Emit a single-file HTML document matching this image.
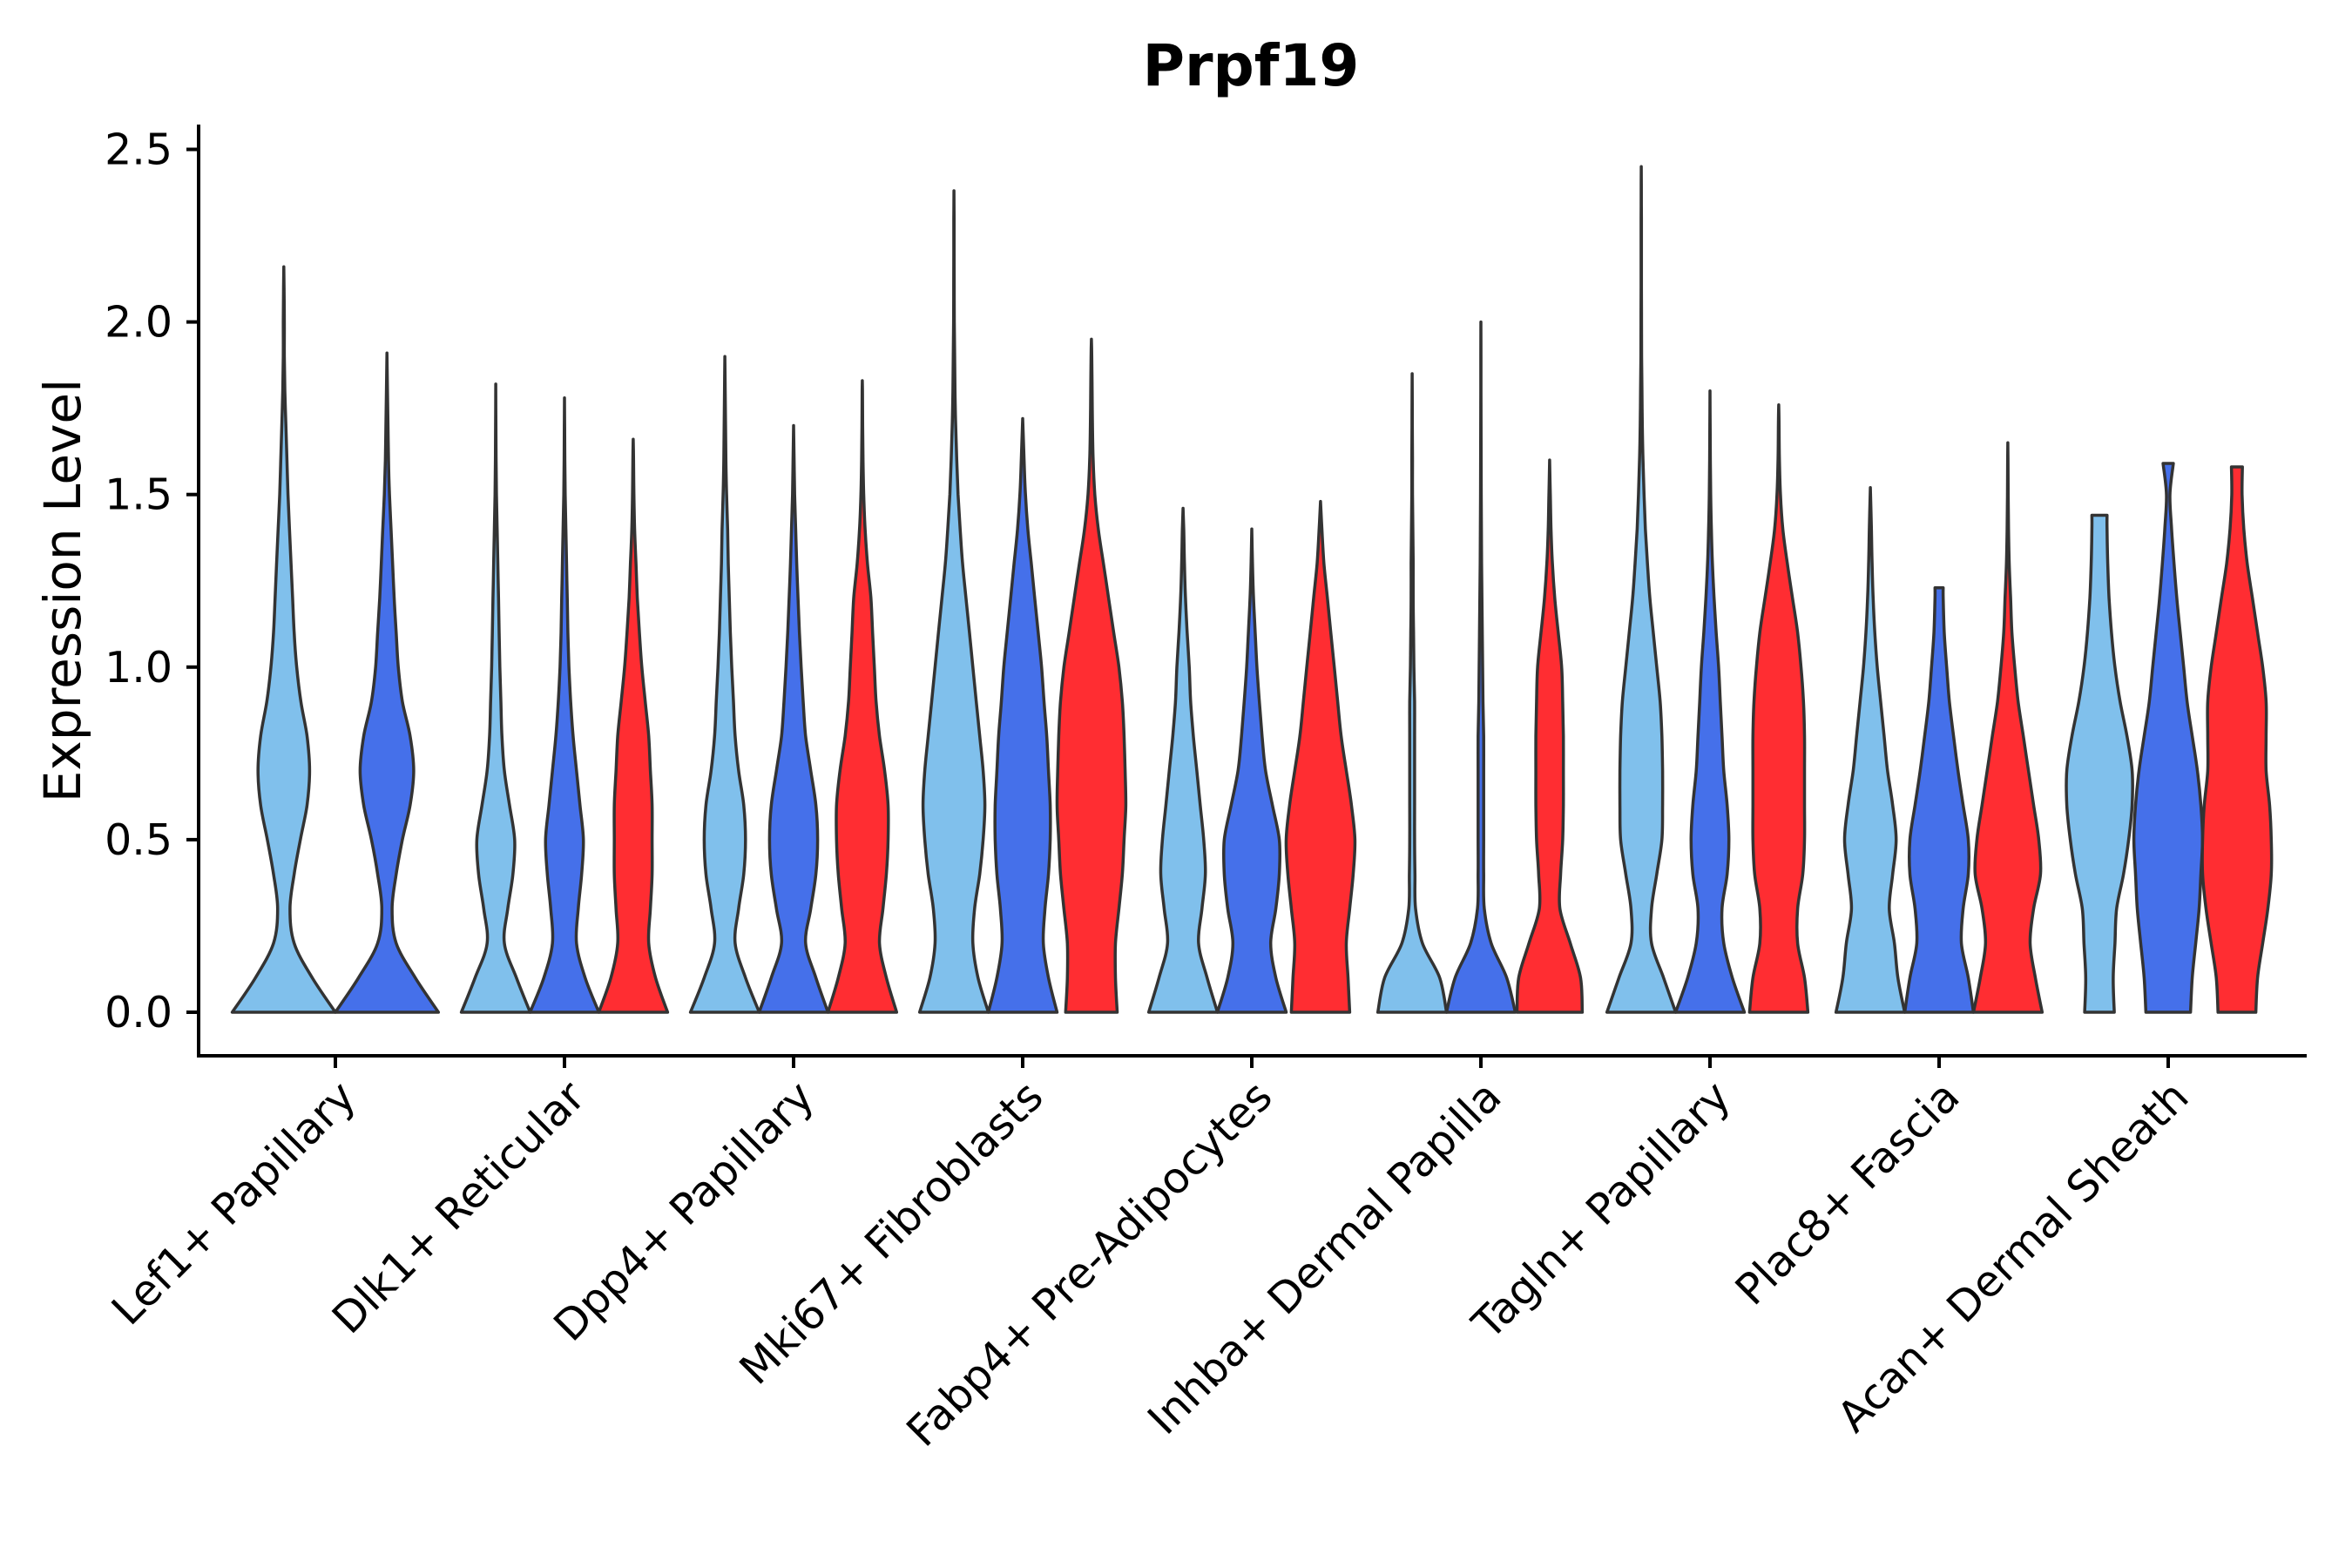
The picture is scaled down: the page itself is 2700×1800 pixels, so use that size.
<!DOCTYPE html>
<html><head><meta charset="utf-8"><style>
body{margin:0;background:#fff;}
svg{display:block;font-family:"Liberation Sans","DejaVu Sans",sans-serif;}
</style></head><body>
<svg id="chart" width="2700" height="1800" viewBox="0 0 2700 1800" xmlns="http://www.w3.org/2000/svg">
<text x="1436" y="98" text-anchor="middle" font-size="66" font-weight="bold" font-family="DejaVu Sans, Liberation Sans, sans-serif">Prpf19</text>
<text transform="translate(92,678) rotate(-90)" text-anchor="middle" font-size="58" font-family="DejaVu Sans, Liberation Sans, sans-serif">Expression Level</text>
<g id="marks"></g>
<g id="axes"></g>
</svg>
<script>
const categories = ["Lef1+ Papillary","Dlk1+ Reticular","Dpp4+ Papillary","Mki67+ Fibroblasts","Fabp4+ Pre-Adipocytes","Inhba+ Dermal Papilla","Tagln+ Papillary","Plac8+ Fascia","Acan+ Dermal Sheath"];
const yTicks = [0,0.5,1.0,1.5,2.0,2.5];
const yTickLabels = ["0.0","0.5","1.0","1.5","2.0","2.5"];
const groupColors = ["#80C0EC","#4570EA","#FF2D32"];
// which sample groups are present in each category
const present = [[0,1],[0,1,2],[0,1,2],[0,1,2],[0,1,2],[0,1,2],[0,1,2],[0,1,2],[0,1,2]];
// maximum value of each violin
const maxVals = [[2.16,1.91],[1.82,1.78,1.66],[1.90,1.70,1.83],[2.38,1.72,1.95],[1.46,1.40,1.48],[1.85,2.00,1.60],[2.45,1.80,1.76],[1.52,1.23,1.65],[1.44,1.59,1.58]];
// relative width at the max (flat tops)
const topWidths = [[0,0],[0,0,0],[0,0,0],[0,0,0],[0,0,0],[0,0,0],[0,0,0],[0,0.12,0],[0.22,0.15,0.16]];
// density profile, relative half-width sampled every 0.1 starting at 0
const densities = [
 [[1.0,0.55,0.2,0.12,0.2,0.32,0.45,0.5,0.45,0.33,0.25,0.2,0.17,0.14,0.11,0.08,0.06,0.04,0.02,0.01,0.01,0.005],
  [1.0,0.55,0.18,0.1,0.18,0.3,0.45,0.52,0.45,0.3,0.22,0.18,0.14,0.11,0.08,0.05,0.03,0.02,0.01,0.005]],
 [[1.0,0.6,0.25,0.35,0.5,0.55,0.4,0.25,0.18,0.15,0.12,0.1,0.08,0.06,0.04,0.02,0.01,0.005,0.003],
  [1.0,0.6,0.35,0.4,0.5,0.55,0.45,0.35,0.25,0.18,0.13,0.1,0.08,0.06,0.04,0.02,0.01,0.005],
  [1.0,0.65,0.45,0.5,0.55,0.55,0.55,0.5,0.45,0.35,0.25,0.18,0.12,0.08,0.04,0.02,0.01]],
 [[1.0,0.6,0.3,0.4,0.55,0.6,0.55,0.4,0.3,0.25,0.2,0.16,0.13,0.1,0.08,0.05,0.03,0.02,0.01,0.005],
  [1.0,0.65,0.35,0.5,0.65,0.7,0.65,0.5,0.35,0.28,0.22,0.17,0.13,0.09,0.06,0.03,0.015,0.005],
  [1.0,0.7,0.5,0.6,0.7,0.75,0.75,0.65,0.5,0.4,0.35,0.3,0.25,0.15,0.08,0.04,0.02,0.01,0.005]],
 [[1.0,0.7,0.55,0.6,0.75,0.85,0.9,0.85,0.75,0.65,0.55,0.45,0.35,0.25,0.18,0.12,0.08,0.05,0.03,0.02,0.01,0.008,0.005,0.004],
  [1.0,0.75,0.6,0.65,0.75,0.8,0.8,0.75,0.7,0.62,0.55,0.45,0.35,0.25,0.15,0.08,0.04,0.01],
  [0.75,0.7,0.7,0.8,0.9,0.95,1.0,0.98,0.95,0.9,0.8,0.65,0.5,0.35,0.2,0.1,0.05,0.03,0.02,0.01]],
 [[1.0,0.7,0.45,0.55,0.65,0.6,0.5,0.4,0.3,0.22,0.18,0.12,0.07,0.04,0.02],
  [1.0,0.7,0.55,0.7,0.8,0.8,0.6,0.4,0.3,0.22,0.15,0.1,0.05,0.02],
  [0.85,0.8,0.75,0.85,0.95,1.0,0.9,0.75,0.6,0.5,0.4,0.3,0.2,0.1,0.04]],
 [[1.0,0.8,0.3,0.1,0.08,0.07,0.07,0.07,0.07,0.07,0.05,0.04,0.03,0.03,0.02,0.01,0.01,0.005,0.003],
  [1.0,0.75,0.3,0.1,0.08,0.08,0.08,0.08,0.08,0.06,0.05,0.04,0.03,0.02,0.015,0.01,0.008,0.005,0.003,0.002],
  [0.95,0.9,0.6,0.3,0.32,0.38,0.4,0.4,0.4,0.38,0.35,0.25,0.15,0.08,0.04,0.02]],
 [[1.0,0.65,0.3,0.3,0.45,0.6,0.62,0.62,0.6,0.55,0.45,0.35,0.25,0.18,0.12,0.08,0.05,0.03,0.02,0.01,0.008,0.006,0.005,0.004,0.003],
  [1.0,0.65,0.4,0.35,0.5,0.55,0.5,0.4,0.35,0.3,0.25,0.18,0.12,0.07,0.04,0.02,0.01,0.005],
  [0.85,0.75,0.55,0.55,0.7,0.75,0.75,0.75,0.75,0.72,0.65,0.55,0.4,0.25,0.12,0.05,0.02,0.01]],
 [[1.0,0.8,0.7,0.55,0.65,0.75,0.65,0.5,0.4,0.3,0.2,0.13,0.08,0.05,0.03,0.01],
  [1.0,0.85,0.65,0.7,0.85,0.85,0.7,0.55,0.42,0.3,0.22,0.15,0.12],
  [1.0,0.8,0.65,0.75,0.95,0.9,0.75,0.6,0.45,0.3,0.2,0.12,0.08,0.04,0.02,0.01,0.005]],
 [[0.43,0.4,0.45,0.5,0.7,0.85,0.95,0.95,0.8,0.6,0.45,0.35,0.28,0.24,0.22],
  [0.65,0.7,0.8,0.9,0.95,1.0,0.95,0.85,0.7,0.55,0.45,0.35,0.25,0.17,0.1,0.05],
  [0.55,0.6,0.75,0.9,1.0,1.0,0.95,0.85,0.85,0.85,0.75,0.6,0.45,0.3,0.2,0.15]]
];

const NS="http://www.w3.org/2000/svg";
const X0=385, BAND=263, Y0=1162, PXU=396.2;
function xScale(i){return X0+i*BAND;}
function yScale(v){return Y0-v*PXU;}
const marks=document.getElementById('marks');
const axes=document.getElementById('axes');
function mk(tag,attrs,parent){const e=document.createElementNS(NS,tag);for(const k in attrs)e.setAttribute(k,attrs[k]);parent.appendChild(e);return e;}
function smooth(pts){
  let d="M"+pts[0][0].toFixed(1)+","+pts[0][1].toFixed(1);
  for(let i=0;i<pts.length-1;i++){
    const p0=pts[Math.max(0,i-1)],p1=pts[i],p2=pts[i+1],p3=pts[Math.min(pts.length-1,i+2)];
    const c1=[p1[0]+(p2[0]-p0[0])/6,p1[1]+(p2[1]-p0[1])/6];
    const c2=[p2[0]-(p3[0]-p1[0])/6,p2[1]-(p3[1]-p1[1])/6];
    d+=" C"+c1[0].toFixed(1)+","+c1[1].toFixed(1)+" "+c2[0].toFixed(1)+","+c2[1].toFixed(1)+" "+p2[0].toFixed(1)+","+p2[1].toFixed(1);
  }
  return d;
}
categories.forEach((c,ci)=>{
  const grp=present[ci]; const n=grp.length;
  const slot=0.9*BAND/n; const hwMax=slot/2;
  grp.forEach((g,k)=>{
    const cx=xScale(ci)-0.45*BAND+slot*(k+0.5);
    const dens=densities[ci][k]; const mx=maxVals[ci][k];
    const prof=[];
    for(let i=0;i<dens.length;i++){const v=i*0.1; if(v>=mx-0.02)break; prof.push([v,dens[i]]);}
    prof.push([mx,topWidths[ci][k]]);
    const right=prof.map(p=>[cx+p[1]*hwMax,yScale(p[0])]);
    const left=prof.slice().reverse().map(p=>[cx-p[1]*hwMax,yScale(p[0])]);
    let d=smooth(right);
    d+=" L"+left[0][0].toFixed(1)+","+left[0][1].toFixed(1)+" "+smooth(left).slice(1).replace(/^[^C]*/,"");
    d+=" Z";
    const p=mk('path',{d:d,fill:groupColors[g],stroke:"#333",'stroke-width':3.5,'stroke-linejoin':'round'},marks);
    
    
  });
  const t=mk('line',{x1:xScale(ci),x2:xScale(ci),y1:1212,y2:1226,stroke:'#000','stroke-width':4},axes);
  
  
  const lx=xScale(ci)+26, ly=1262;
  const lab=mk('text',{x:lx,y:ly,'text-anchor':'end','font-size':49,transform:`rotate(-45 ${lx} ${ly})`,'font-family':'DejaVu Sans, Liberation Sans, sans-serif'},axes);
  lab.textContent=c;
  
  
});
const ya=mk('line',{x1:228,x2:228,y1:143,y2:1214,stroke:'#000','stroke-width':4},axes);


const xa=mk('line',{x1:226,x2:2648,y1:1212,y2:1212,stroke:'#000','stroke-width':4},axes);


yTicks.forEach((v,i)=>{
  const t=mk('line',{x1:214,x2:228,y1:yScale(v),y2:yScale(v),stroke:'#000','stroke-width':4},axes);
  
  
  const l=mk('text',{x:198,y:yScale(v)+17,'text-anchor':'end','font-size':49,'font-family':'DejaVu Sans, Liberation Sans, sans-serif'},axes);
  l.textContent=yTickLabels[i];
  
  
});
</script>
</body></html>
